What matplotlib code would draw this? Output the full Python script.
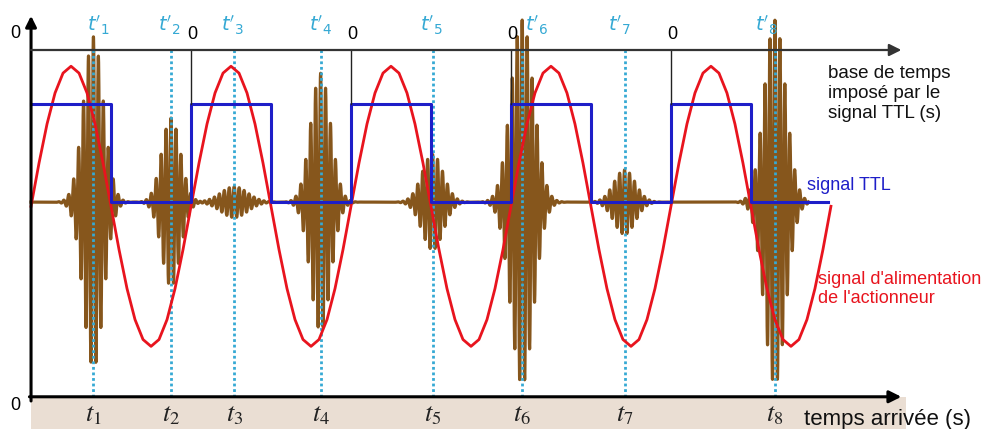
import numpy as np
import matplotlib.pyplot as plt

# -----------------------------
# Data (time unit = one period of the actuator / TTL signal)
# -----------------------------
n_periods = 5
sine_amp = 1.0
ttl_high = 0.70
ttl_origins = [1, 2, 3, 4]           # rising edges marked with "0"

arrival_times = [0.39, 0.875, 1.27, 1.81, 2.51, 3.07, 3.71, 4.65]
burst_amps = [1.18, 0.60, 0.11, 0.92, 0.34, 1.30, 0.23, 1.30]
burst_widths = [0.15, 0.14, 0.20, 0.15, 0.16, 0.17, 0.16, 0.16]
prime_offsets = [0.03, -0.01, -0.01, 0.0, -0.01, 0.09, -0.03, -0.05]
t_labels = [f"$t_{i}$" for i in range(1, 9)]
tp_labels = [f"$t'_{i}$" for i in range(1, 9)]

# colours
RED = "#e8141e"
BLUE = "#1e1ec8"
BROWN = "#86561c"
CYAN = "#35a9d4"
BEIGE = "#eaded3"

# -----------------------------
# Figure
# -----------------------------
fig = plt.figure(figsize=(9.85, 4.29), dpi=100)
ax = fig.add_axes([0, 0, 1, 1])
ax.set_xlim(-0.194, 5.963)
ax.set_ylim(-1.62, 1.443)
ax.axis("off")

y_top = 1.086     # TTL time base
y_bot = -1.39     # arrival time axis

# beige band under arrival time axis
ax.fill_between([0, 5.47], -1.62, y_bot, color=BEIGE, zorder=0, lw=0)

# axes with arrows
ax.annotate("", xy=(0, 1.33), xytext=(0, y_bot - 0.03),
            arrowprops=dict(arrowstyle="-|>", color="black", lw=2.2,
                            mutation_scale=16, shrinkA=0, shrinkB=0), zorder=6)
ax.annotate("", xy=(5.44, y_bot), xytext=(-0.01, y_bot),
            arrowprops=dict(arrowstyle="-|>", color="black", lw=2.2,
                            mutation_scale=18, shrinkA=0, shrinkB=0), zorder=6)
ax.annotate("", xy=(5.44, y_top), xytext=(0, y_top),
            arrowprops=dict(arrowstyle="-|>", color="#333333", lw=1.6,
                            mutation_scale=18, shrinkA=0, shrinkB=0), zorder=6)

# brown bursts (received signal)
t_b = np.linspace(0, 4.86, 8000)
burst = np.zeros_like(t_b)
carrier_period = 0.031
for tc, a, w in zip(arrival_times, burst_amps, burst_widths):
    env = a * np.exp(-((t_b - tc) / (w / 1.7)) ** 2)
    burst += env * np.cos(2 * np.pi * (t_b - tc) / carrier_period)
ax.plot(t_b, burst, color=BROWN, lw=2.3, zorder=2)

# dotted arrival lines
for tc in arrival_times:
    ax.plot([tc, tc], [y_bot, y_top], color=CYAN, lw=2, ls=(0, (1, 1)), zorder=3)

# actuator supply (red)
t_s = np.linspace(0, n_periods, 20 * n_periods + 1)
ax.plot(t_s, -0.03 + sine_amp * np.sin(2 * np.pi * t_s), color=RED, lw=2, zorder=4)

# TTL square wave (blue)
ttl_t = [0]
ttl_y = [ttl_high]
for k in range(n_periods):
    ttl_t += [k + 0.5, k + 0.5, k + 1, k + 1] if k < n_periods - 1 else [k + 0.5, k + 0.5, k + 0.98]
    ttl_y += [ttl_high, 0, 0, ttl_high] if k < n_periods - 1 else [ttl_high, 0, 0]
ax.plot(ttl_t, ttl_y, color=BLUE, lw=2.2, zorder=5)

# TTL origins
for t0 in ttl_origins:
    ax.plot([t0, t0], [ttl_high, y_top], color="#222222", lw=1, zorder=5)
    ax.text(t0 + 0.01, y_top + 0.05, "0", fontsize=13, ha="center", va="bottom",
            family="Liberation Sans")
ax.text(-0.10, y_top + 0.06, "0", fontsize=13, ha="center", va="bottom",
        family="Liberation Sans")
ax.text(-0.10, y_bot - 0.06, "0", fontsize=13, ha="center", va="center",
        family="Liberation Sans")

# labels
for tc, off, lab in zip(arrival_times, prime_offsets, tp_labels):
    ax.text(tc + off, y_top + 0.09, lab, color=CYAN, fontsize=14, ha="center",
            va="bottom", math_fontfamily="dejavusans")
for tc, lab in zip(arrival_times, t_labels):
    ax.text(tc, -1.565, lab, color="#222222", fontsize=19, ha="center",
            va="baseline", math_fontfamily="stix")

fam = ["Liberation Sans Narrow", "Liberation Sans"]
ax.text(4.98, 0.98, "base de temps\nimposé par le\nsignal TTL (s)", fontsize=13.5,
        family=fam, va="top", ha="left", linespacing=1.25, color="#111111")
ax.text(4.85, 0.12, "signal TTL", fontsize=13, family=fam, color=BLUE,
        va="center", ha="left")
ax.text(4.92, -0.62, "signal d'alimentation\nde l'actionneur", fontsize=13,
        family=fam, color=RED, va="center", ha="left", linespacing=1.2)
ax.text(4.83, y_bot - 0.16, "temps arrivée (s)", fontsize=16, family=fam,
        color="#111111", va="center", ha="left")

fig.savefig("out.png", dpi=100)
